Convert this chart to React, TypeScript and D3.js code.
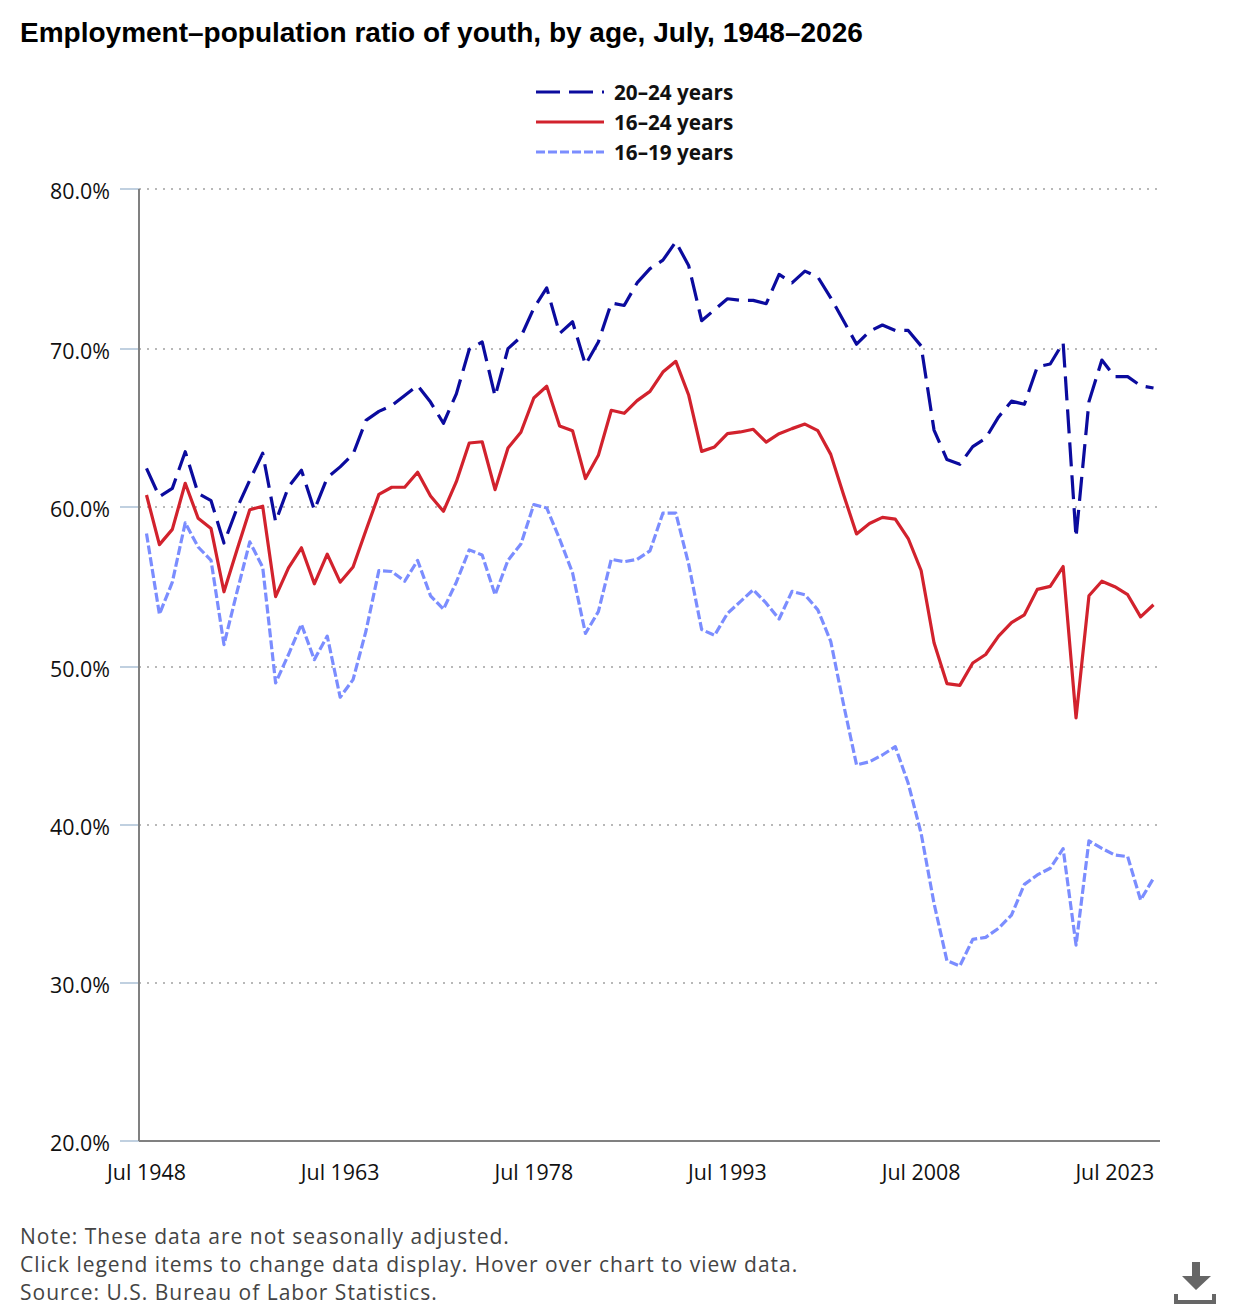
import * as d3 from "d3";

const firstYear = 1948;

const ages2024 = [
  62.44, 60.65, 61.18, 63.5, 60.86, 60.4, 57.75, 59.9, 61.7, 63.4, 59.08, 61.28, 62.33,
  59.81, 61.85, 62.54, 63.34, 65.48, 66.05, 66.43, 67.06, 67.69, 66.64, 65.3, 67.16, 69.98,
  70.44, 67.0, 70.02, 70.76, 72.55, 73.82, 70.97, 71.7, 69.0, 70.44, 72.87, 72.72, 74.13,
  75.02, 75.55, 76.7, 75.2, 71.77, 72.45, 73.14, 73.04, 73.04, 72.83, 74.66, 74.13, 74.87,
  74.5, 73.2, 71.75, 70.3, 71.1, 71.5, 71.16, 71.16, 70.19, 64.87, 63.0, 62.7, 63.82,
  64.35, 65.7, 66.7, 66.5, 68.88, 69.05, 70.4, 58.1, 66.67, 69.3, 68.25, 68.25, 67.68, 67.53,
];

const ages1624 = [
  60.76, 57.65, 58.6, 61.5, 59.3, 58.65, 54.7, 57.3, 59.83, 60.05, 54.4, 56.2, 57.45, 55.2,
  57.05, 55.3, 56.25, 58.55, 60.8, 61.25, 61.25, 62.2, 60.7, 59.73, 61.6, 64.05, 64.13, 61.1,
  63.73, 64.73, 66.9, 67.64, 65.13, 64.83, 61.8, 63.27, 66.12, 65.93, 66.73, 67.32, 68.54,
  69.22, 67.07, 63.52, 63.8, 64.64, 64.75, 64.92, 64.11, 64.64, 64.96, 65.25, 64.83, 63.33,
  60.76, 58.32, 58.97, 59.35, 59.24, 58.03, 56.03, 51.51, 48.95, 48.84, 50.25, 50.78, 51.93,
  52.77, 53.26, 54.85, 55.04, 56.28, 46.78, 54.45, 55.36, 55.02, 54.52, 53.13, 53.89,
];

const ages1619 = [
  58.34, 53.3, 55.3, 59.01, 57.5, 56.66, 51.4, 54.66, 57.82, 56.24, 48.99, 50.78, 52.67, 50.46,
  51.93, 48.09, 49.2, 52.25, 56.03, 55.97, 55.36, 56.66, 54.45, 53.61, 55.3, 57.32, 57.0, 54.51,
  56.67, 57.68, 60.15, 59.94, 58.0, 55.89, 52.1, 53.46, 56.73, 56.58, 56.73, 57.26, 59.62, 59.62,
  56.41, 52.34, 51.98, 53.35, 54.09, 54.83, 53.99, 53.0, 54.73, 54.51, 53.57, 51.6, 47.6, 43.8,
  44.0, 44.43, 44.96, 42.64, 39.47, 35.04, 31.41, 31.08, 32.76, 32.89, 33.46, 34.3, 36.24, 36.84,
  37.26, 38.5, 32.4, 39.0, 38.52, 38.1, 38.0, 35.25, 36.63,
];

const yTicks = [20, 30, 40, 50, 60, 70, 80];
const xTicks = [1948, 1963, 1978, 1993, 2008, 2023];
const noteLines = [
  "Note: These data are not seasonally adjusted.",
  "Click legend items to change data display. Hover over chart to view data.",
  "Source: U.S. Bureau of Labor Statistics.",
];

const series = [
  { name: "20–24 years", values: ages2024, color: "#0b0b9e", dash: "24,9" },
  { name: "16–24 years", values: ages1624, color: "#d2222d", dash: undefined },
  { name: "16–19 years", values: ages1619, color: "#7b8dff", dash: "9,3" },
];

const labelFont = "'Open Sans', sans-serif";

export default function App() {
  const x = d3.scaleLinear().domain([firstYear, 2026]).range([146.5, 1153.5]);
  // gridlines in the picture land on whole pixels, so the scale follows them
  const y = d3.scaleLinear().domain(yTicks).range([1141, 983, 825, 667, 507, 349, 189]);

  const line = d3
    .line<number>()
    .x((_, i) => x(firstYear + i))
    .y((d) => y(d));

  return (
    <svg
      width={1240}
      height={1310}
      style={{ position: "absolute", left: 0, top: 0, background: "#fff" }}
    >
      <text
        x={20}
        y={42}
        fontFamily="'Liberation Sans', Arial, sans-serif"
        fontWeight="bold"
        fontSize={28}
        fill="#000"
      >
        Employment–population ratio of youth, by age, July, 1948–2026
      </text>

      {/* Legend */}
      {series.map((s, i) => (
        <g key={s.name} transform={`translate(0, ${92 + i * 30})`}>
          <line x1={536} x2={604} stroke={s.color} strokeWidth={3.2} strokeDasharray={s.dash} />
          <text
            x={614}
            y={8}
            fontFamily={labelFont}
            fontWeight="bold"
            fontSize={20.7}
            fill="#111"
          >
            {s.name}
          </text>
        </g>
      ))}

      {/* Grid and y axis */}
      {yTicks.map((t) => (
        <g key={t}>
          {t > 20 && (
            <line
              x1={139}
              x2={1159}
              y1={y(t)}
              y2={y(t)}
              stroke="#b8b8b8"
              strokeWidth={2}
              strokeDasharray="2,6"
            />
          )}
          <line x1={120} x2={139} y1={y(t)} y2={y(t)} stroke="#c0d0e0" strokeWidth={2} />
          <text
            x={110}
            y={y(t) + 10}
            textAnchor="end"
            fontFamily={labelFont}
            fontSize={21.4}
            fill="#111"
          >
            {t.toFixed(1)}%
          </text>
        </g>
      ))}
      <line x1={139} x2={139} y1={189} y2={1141} stroke="#808080" strokeWidth={2} />
      <line x1={139} x2={1160} y1={1141} y2={1141} stroke="#808080" strokeWidth={2} />

      {/* X axis labels */}
      {xTicks.map((t) => (
        <text
          key={t}
          x={x(t)}
          y={1180}
          textAnchor="middle"
          fontFamily={labelFont}
          fontSize={21.4}
          fill="#111"
        >
          Jul {t}
        </text>
      ))}

      {/* Lines, first legend item on the bottom */}
      {series.map((s) => (
        <path
          key={s.name}
          d={line(s.values) ?? undefined}
          fill="none"
          stroke={s.color}
          strokeWidth={3.2}
          strokeDasharray={s.dash}
          strokeLinejoin="round"
        />
      ))}

      {/* Notes */}
      {noteLines.map((n, i) => (
        <text
          key={n}
          x={20}
          y={1244 + i * 28}
          fontFamily={labelFont}
          fontSize={21}
          letterSpacing={1}
          fill="#444"
        >
          {n}
        </text>
      ))}

      {/* Download icon */}
      <path
        d="M1192 1262h8v14h11l-15 14-14-14h10z M1174 1294h4v6h34v-6h4v10h-42z"
        fill="#666"
      />
    </svg>
  );
}
